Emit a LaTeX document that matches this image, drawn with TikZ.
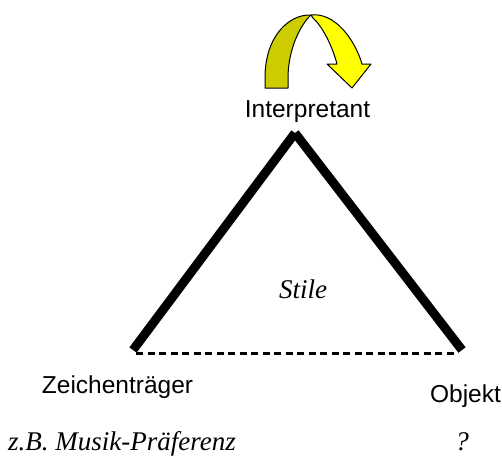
\documentclass[tikz,border=0pt]{standalone}
\usepackage{fontspec}
\setmainfont{Liberation Serif}
\newfontfamily\arialfont{Liberation Sans}
\definecolor{arrowdark}{RGB}{204,204,0}
\definecolor{arrowbright}{RGB}{255,255,0}
\begin{document}
\begin{tikzpicture}[x=1pt,y=-1pt,
  sanslabel/.style={font=\arialfont\fontsize{24.5}{28}\selectfont, inner sep=0pt, anchor=base},
  seriflabel/.style={font=\itshape\fontsize{27}{30}\selectfont, inner sep=0pt, anchor=base},
  thickside/.style={line width=9pt, line cap=butt},
  dashside/.style={line width=3pt, dash pattern=on 7pt off 4.5pt}]
\useasboundingbox (0,0) rectangle (502,459);
% vertices
\coordinate (apex) at (295,133);
\coordinate (left) at (133,350);
\coordinate (right) at (462,350);
\coordinate (dl) at (136,353);
\coordinate (dr) at (458,353);
% sides
\draw[thickside] (left) -- (apex);
\draw[thickside] (apex) -- (right);
\draw[dashside] (dl) -- (dr);
% twisted arrow
\draw[fill=arrowdark, line width=1pt, line join=round]
  (265,88) -- (265,78) .. controls (265,35) and (290,14) .. (311,15)
  .. controls (300,25) and (288,50) .. (288,78) -- (288,88) -- cycle;
\draw[fill=arrowbright, line width=1pt, line join=round]
  (311,15) .. controls (335,12) and (355,40) .. (362,64)
  -- (371,64) -- (352,88) -- (327,64) -- (337,64)
  .. controls (332,45) and (322,26) .. (313,18) -- cycle;
% labels
\node[sanslabel] (interp) at (307.5,117) {Interpretant};
\node[sanslabel] (zeichen) at (117.5,393) {Zeichenträger};
\node[sanslabel] (objekt) at (465.5,402) {Objekt};
\node[seriflabel] (stile) at (303,298) {Stile};
\node[seriflabel, anchor=base west] (bsp) at (8,450) {z.B. Musik-Präferenz};
\node[seriflabel] (frage) at (462,450) {?};
\end{tikzpicture}
\end{document}
